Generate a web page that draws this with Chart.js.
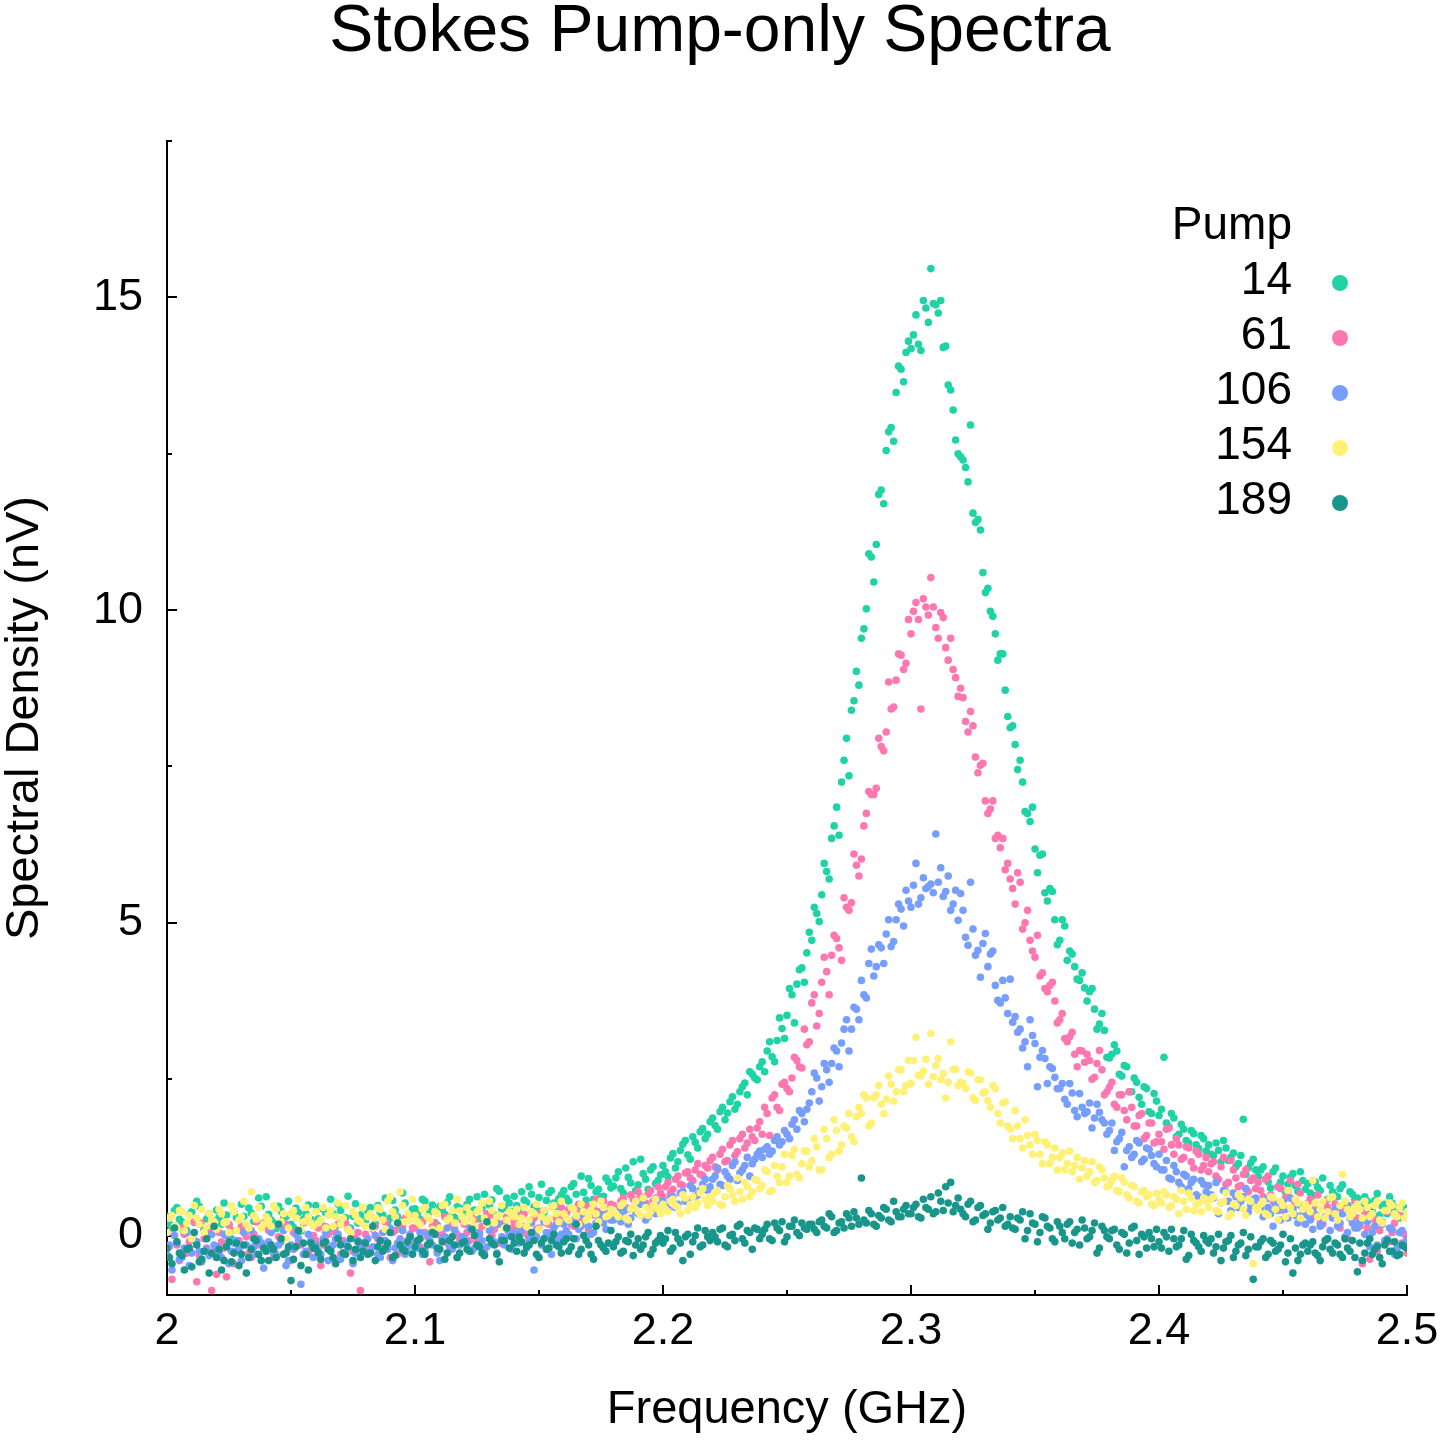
<!DOCTYPE html>
<html>
<head>
<meta charset="utf-8">
<title>Stokes Pump-only Spectra</title>
<script src="https://cdn.jsdelivr.net/npm/chart.js@4.4.1/dist/chart.umd.min.js"></script>
<style>
  html, body { margin: 0; padding: 0; background: #fff; }
  #wrap { width: 1440px; height: 1440px; }
</style>
</head>
<body>
<div id="wrap"><canvas id="spectra" width="1440" height="1440"></canvas></div>
<script>
// Frequency grid (GHz), 1 MHz spacing, kept as two interleaved halves
const freqA = [
    2.000, 2.002, 2.004, 2.006, 2.008, 2.010, 2.012, 2.014, 2.016, 2.018,
    2.020, 2.022, 2.024, 2.026, 2.028, 2.030, 2.032, 2.034, 2.036, 2.038,
    2.040, 2.042, 2.044, 2.046, 2.048, 2.050, 2.052, 2.054, 2.056, 2.058,
    2.060, 2.062, 2.064, 2.066, 2.068, 2.070, 2.072, 2.074, 2.076, 2.078,
    2.080, 2.082, 2.084, 2.086, 2.088, 2.090, 2.092, 2.094, 2.096, 2.098,
    2.100, 2.102, 2.104, 2.106, 2.108, 2.110, 2.112, 2.114, 2.116, 2.118,
    2.120, 2.122, 2.124, 2.126, 2.128, 2.130, 2.132, 2.134, 2.136, 2.138,
    2.140, 2.142, 2.144, 2.146, 2.148, 2.150, 2.152, 2.154, 2.156, 2.158,
    2.160, 2.162, 2.164, 2.166, 2.168, 2.170, 2.172, 2.174, 2.176, 2.178,
    2.180, 2.182, 2.184, 2.186, 2.188, 2.190, 2.192, 2.194, 2.196, 2.198,
    2.200, 2.202, 2.204, 2.206, 2.208, 2.210, 2.212, 2.214, 2.216, 2.218,
    2.220, 2.222, 2.224, 2.226, 2.228, 2.230, 2.232, 2.234, 2.236, 2.238,
    2.240, 2.242, 2.244, 2.246, 2.248, 2.250, 2.252, 2.254, 2.256, 2.258,
    2.260, 2.262, 2.264, 2.266, 2.268, 2.270, 2.272, 2.274, 2.276, 2.278,
    2.280, 2.282, 2.284, 2.286, 2.288, 2.290, 2.292, 2.294, 2.296, 2.298,
    2.300, 2.302, 2.304, 2.306, 2.308, 2.310, 2.312, 2.314, 2.316, 2.318,
    2.320, 2.322, 2.324, 2.326, 2.328, 2.330, 2.332, 2.334, 2.336, 2.338,
    2.340, 2.342, 2.344, 2.346, 2.348, 2.350, 2.352, 2.354, 2.356, 2.358,
    2.360, 2.362, 2.364, 2.366, 2.368, 2.370, 2.372, 2.374, 2.376, 2.378,
    2.380, 2.382, 2.384, 2.386, 2.388, 2.390, 2.392, 2.394, 2.396, 2.398,
    2.400, 2.402, 2.404, 2.406, 2.408, 2.410, 2.412, 2.414, 2.416, 2.418,
    2.420, 2.422, 2.424, 2.426, 2.428, 2.430, 2.432, 2.434, 2.436, 2.438,
    2.440, 2.442, 2.444, 2.446, 2.448, 2.450, 2.452, 2.454, 2.456, 2.458,
    2.460, 2.462, 2.464, 2.466, 2.468, 2.470, 2.472, 2.474, 2.476, 2.478,
    2.480, 2.482, 2.484, 2.486, 2.488, 2.490, 2.492, 2.494, 2.496, 2.498,
    2.500
];
const freqB = [
    2.001, 2.003, 2.005, 2.007, 2.009, 2.011, 2.013, 2.015, 2.017, 2.019,
    2.021, 2.023, 2.025, 2.027, 2.029, 2.031, 2.033, 2.035, 2.037, 2.039,
    2.041, 2.043, 2.045, 2.047, 2.049, 2.051, 2.053, 2.055, 2.057, 2.059,
    2.061, 2.063, 2.065, 2.067, 2.069, 2.071, 2.073, 2.075, 2.077, 2.079,
    2.081, 2.083, 2.085, 2.087, 2.089, 2.091, 2.093, 2.095, 2.097, 2.099,
    2.101, 2.103, 2.105, 2.107, 2.109, 2.111, 2.113, 2.115, 2.117, 2.119,
    2.121, 2.123, 2.125, 2.127, 2.129, 2.131, 2.133, 2.135, 2.137, 2.139,
    2.141, 2.143, 2.145, 2.147, 2.149, 2.151, 2.153, 2.155, 2.157, 2.159,
    2.161, 2.163, 2.165, 2.167, 2.169, 2.171, 2.173, 2.175, 2.177, 2.179,
    2.181, 2.183, 2.185, 2.187, 2.189, 2.191, 2.193, 2.195, 2.197, 2.199,
    2.201, 2.203, 2.205, 2.207, 2.209, 2.211, 2.213, 2.215, 2.217, 2.219,
    2.221, 2.223, 2.225, 2.227, 2.229, 2.231, 2.233, 2.235, 2.237, 2.239,
    2.241, 2.243, 2.245, 2.247, 2.249, 2.251, 2.253, 2.255, 2.257, 2.259,
    2.261, 2.263, 2.265, 2.267, 2.269, 2.271, 2.273, 2.275, 2.277, 2.279,
    2.281, 2.283, 2.285, 2.287, 2.289, 2.291, 2.293, 2.295, 2.297, 2.299,
    2.301, 2.303, 2.305, 2.307, 2.309, 2.311, 2.313, 2.315, 2.317, 2.319,
    2.321, 2.323, 2.325, 2.327, 2.329, 2.331, 2.333, 2.335, 2.337, 2.339,
    2.341, 2.343, 2.345, 2.347, 2.349, 2.351, 2.353, 2.355, 2.357, 2.359,
    2.361, 2.363, 2.365, 2.367, 2.369, 2.371, 2.373, 2.375, 2.377, 2.379,
    2.381, 2.383, 2.385, 2.387, 2.389, 2.391, 2.393, 2.395, 2.397, 2.399,
    2.401, 2.403, 2.405, 2.407, 2.409, 2.411, 2.413, 2.415, 2.417, 2.419,
    2.421, 2.423, 2.425, 2.427, 2.429, 2.431, 2.433, 2.435, 2.437, 2.439,
    2.441, 2.443, 2.445, 2.447, 2.449, 2.451, 2.453, 2.455, 2.457, 2.459,
    2.461, 2.463, 2.465, 2.467, 2.469, 2.471, 2.473, 2.475, 2.477, 2.479,
    2.481, 2.483, 2.485, 2.487, 2.489, 2.491, 2.493, 2.495, 2.497, 2.499
];

// Spectral density (nV) per pump setting
const pump14a = [
    0.31, 0.12, 0.45, 0.22, 0.08, 0.38, 0.55, 0.19, 0.27, 0.02,
    0.41, 0.18, 0.33, -0.05, 0.29, 0.50, 0.14, 0.36, 0.22, 0.47,
    0.62, 0.25, 0.11, 0.39, 0.30, 0.18, 0.44, 0.07, 0.35, 0.26,
    0.48, 0.21, 0.36, 0.58, 0.15, 0.40, 0.29, 0.12, 0.51, 0.33,
    0.24, 0.45, 0.19, 0.37, 0.60, 0.28, 0.41, 0.16, 0.52, 0.30,
    0.43, 0.26, 0.55, 0.38, 0.21, 0.47, 0.34, 0.62, 0.29, 0.44,
    0.36, 0.58, 0.41, 0.27, 0.66, 0.49, 0.33, 0.71, 0.45, 0.52,
    0.63, 0.40, 0.57, 0.78, 0.46, 0.61, 0.35, 0.68, 0.52, 0.59,
    0.72, 0.55, 0.83, 0.48, 0.69, 0.91, 0.58, 0.74, 0.63, 0.86,
    0.79, 1.02, 0.68, 0.93, 1.18, 0.81, 0.99, 0.74, 1.10, 0.88,
    1.12, 0.94, 1.31, 1.18, 1.46, 1.29, 1.58, 1.40, 1.71, 1.62,
    1.88, 1.70, 2.05, 1.96, 2.22, 2.10, 2.38, 2.25, 2.58, 2.49,
    2.78, 2.95, 2.86, 3.12, 3.31, 3.52, 3.85, 4.02, 4.28, 4.52,
    4.72, 5.15, 5.45, 5.82, 6.35, 6.85, 7.25, 7.95, 8.40, 9.02,
    9.55, 10.02, 10.85, 11.05, 11.92, 12.55, 12.92, 13.48, 13.85, 14.12,
    14.18, 14.72, 14.15, 14.83, 15.46, 14.88, 14.95, 14.22, 13.52, 12.72,
    12.45, 12.28, 12.96, 11.40, 11.28, 10.28, 9.98, 9.62, 9.30, 8.72,
    8.12, 7.85, 7.60, 6.78, 6.62, 6.18, 6.08, 5.48, 5.55, 5.05,
    4.72, 4.95, 4.55, 4.30, 4.08, 3.96, 3.90, 3.62, 3.38, 3.28,
    2.84, 3.05, 2.58, 2.72, 2.30, 2.52, 2.21, 2.38, 1.98, 2.27,
    1.92, 2.85, 1.74, 1.88, 1.62, 1.70, 1.48, 1.63, 1.39, 1.55,
    1.45, 1.28, 1.36, 1.52, 1.20, 1.32, 1.15, 1.86, 1.08, 1.22,
    0.94, 1.10, 0.86, 1.02, 0.78, 0.95, 0.82, 0.99, 0.71, 0.88,
    0.83, 0.64, 0.77, 0.92, 0.58, 0.70, 0.62, 0.81, 0.49, 0.66,
    0.60, 0.43, 0.55, 0.38, 0.67, 0.47, 0.35, 0.52, 0.44, 0.31,
    0.40
];
const pump14b = [
    0.18, 0.40, 0.26, 0.05, 0.33, 0.21, 0.47, 0.10, 0.35, 0.24,
    0.29, 0.52, 0.17, 0.38, 0.09, 0.31, 0.44, 0.23, 0.60, 0.16,
    0.34, 0.20, 0.47, 0.28, 0.55, 0.13, 0.37, 0.26, 0.49, 0.19,
    0.27, 0.42, 0.08, 0.35, 0.50, 0.24, 0.63, 0.31, 0.20, 0.45,
    0.39, 0.14, 0.48, 0.33, 0.22, 0.56, 0.30, 0.68, 0.25, 0.42,
    0.35, 0.58, 0.30, 0.49, 0.17, 0.40, 0.53, 0.32, 0.46, 0.28,
    0.50, 0.39, 0.62, 0.44, 0.31, 0.57, 0.75, 0.42, 0.60, 0.38,
    0.48, 0.70, 0.53, 0.66, 0.41, 0.82, 0.56, 0.72, 0.47, 0.65,
    0.60, 0.78, 0.66, 0.95, 0.57, 0.80, 0.70, 0.62, 0.92, 0.76,
    0.92, 0.75, 1.08, 0.84, 0.72, 1.22, 0.90, 1.05, 0.83, 0.97,
    1.02, 1.24, 1.08, 1.36, 1.52, 1.22, 1.49, 1.66, 1.55, 1.82,
    1.76, 1.98, 1.85, 2.14, 2.02, 2.30, 2.44, 2.62, 2.52, 2.70,
    2.62, 3.10, 2.78, 3.48, 3.15, 3.95, 3.40, 4.25, 4.05, 4.85,
    5.25, 5.02, 5.95, 5.70, 6.55, 6.40, 7.60, 7.35, 8.55, 8.80,
    9.70, 10.90, 10.45, 11.85, 11.70, 12.85, 12.70, 13.90, 13.65, 14.30,
    14.40, 14.25, 14.95, 14.60, 14.90, 14.75, 14.20, 13.60, 13.20, 12.50,
    12.40, 12.05, 11.55, 11.45, 10.60, 10.35, 9.90, 9.20, 9.30, 8.30,
    8.15, 7.45, 7.25, 6.75, 6.85, 5.80, 6.10, 5.35, 5.50, 4.65,
    5.05, 4.40, 4.50, 4.10, 4.20, 3.75, 3.95, 3.30, 3.55, 2.85,
    2.90, 2.95, 2.55, 2.70, 2.30, 2.45, 2.10, 2.35, 1.95, 2.15,
    2.02, 1.80, 1.95, 1.58, 1.78, 1.52, 1.68, 1.45, 1.60, 1.35,
    1.30, 1.48, 1.18, 1.40, 1.25, 1.10, 1.28, 0.98, 1.16, 1.05,
    1.05, 0.90, 0.76, 1.08, 0.85, 0.70, 0.93, 0.80, 1.02, 0.74,
    0.68, 0.86, 0.72, 0.55, 0.80, 0.64, 0.75, 0.50, 0.70, 0.58,
    0.48, 0.62, 0.40, 0.56, 0.33, 0.50, 0.62, 0.39, 0.28, 0.45
];

const pump61a = [
    0.05, -0.70, -0.15, 0.12, -0.28, -0.05, -0.74, 0.20, -0.20, -0.88,
    -0.62, -0.10, -0.66, 0.08, -0.25, 0.15, -0.02, -0.35, 0.22, -0.12,
    -0.18, 0.10, -0.30, -0.05, 0.18, -0.40, 0.02, -0.15, 0.25, -0.22,
    -0.08, -0.48, 0.14, -0.20, 0.05, -0.30, 0.20, -0.60, -0.05, -0.88,
    0.02, -0.25, 0.15, -0.10, 0.22, -0.35, 0.08, -0.12, 0.28, -0.05,
    0.12, -0.18, 0.05, -0.42, 0.20, 0.00, 0.30, -0.15, 0.10, -0.05,
    0.18, -0.08, 0.25, 0.05, -0.22, 0.32, 0.10, -0.12, 0.20, 0.02,
    0.22, 0.05, 0.35, -0.10, 0.28, 0.12, 0.40, 0.18, -0.02, 0.30,
    0.25, 0.42, 0.15, 0.50, 0.30, 0.08, 0.45, 0.38, 0.55, 0.28,
    0.48, 0.36, 0.60, 0.42, 0.58, 0.70, 0.50, 0.66, 0.55, 0.78,
    0.62, 0.85, 0.74, 0.95, 0.80, 1.02, 0.88, 1.15, 0.96, 1.08,
    1.25, 1.05, 1.38, 1.20, 1.52, 1.34, 1.62, 1.48, 1.58, 1.72,
    1.62, 1.95, 2.20, 2.05, 2.42, 2.35, 2.52, 2.80, 2.68, 3.05,
    3.72, 3.35, 4.05, 4.22, 4.48, 4.75, 4.40, 5.25, 5.32, 5.92,
    6.02, 6.75, 7.05, 7.15, 7.82, 8.05, 8.42, 8.88, 9.28, 9.15,
    9.62, 10.12, 8.42, 10.05, 10.52, 9.72, 9.96, 9.40, 9.55, 8.92,
    8.75, 8.22, 8.38, 7.65, 7.52, 6.95, 6.82, 6.35, 6.20, 5.85,
    5.70, 5.30, 5.65, 5.00, 4.72, 4.45, 4.15, 3.95, 4.00, 3.75,
    3.45, 3.15, 3.18, 2.90, 2.96, 2.77, 2.80, 2.53, 2.96, 2.25,
    2.37, 2.10, 2.25, 2.00, 2.30, 1.75, 1.92, 1.55, 1.80, 1.48,
    1.62, 1.38, 1.72, 1.30, 1.45, 1.25, 1.40, 1.08, 1.30, 1.12,
    1.02, 1.18, 0.90, 1.25, 0.85, 1.05, 0.78, 0.98, 0.70, 0.92,
    0.85, 0.62, 0.95, 0.55, 0.78, 0.40, 0.70, 0.58, 0.82, 0.45,
    0.52, 0.30, 0.65, 0.18, 0.45, 0.60, 0.25, 0.40, -0.05, 0.35,
    0.28, -0.45, 0.12, 0.32, -0.25, 0.22, 0.38, 0.05, 0.30, -0.12,
    -0.28
];
const pump61b = [
    -0.18, 0.15, -0.40, 0.02, -0.10, 0.22, -0.32, -0.05, 0.10, -0.25,
    0.05, -0.20, 0.18, -0.45, -0.08, 0.10, -0.28, 0.02, -0.15, 0.20,
    0.08, -0.35, -0.02, 0.15, -0.22, 0.05, -0.12, 0.20, -0.30, 0.00,
    0.12, -0.15, 0.02, -0.38, 0.18, -0.08, 0.10, -0.25, 0.05, -0.12,
    -0.20, 0.10, -0.05, 0.25, -0.18, 0.05, -0.30, 0.15, -0.08, 0.12,
    -0.10, 0.22, -0.02, 0.15, -0.25, 0.08, -0.12, 0.18, 0.02, 0.25,
    0.05, 0.28, -0.10, 0.15, 0.35, 0.00, 0.22, -0.05, 0.30, 0.12,
    0.15, 0.32, 0.02, 0.25, 0.10, 0.38, 0.20, 0.05, 0.28, 0.45,
    0.35, 0.18, 0.40, 0.22, 0.48, 0.32, 0.58, 0.25, 0.42, 0.50,
    0.40, 0.55, 0.45, 0.65, 0.38, 0.62, 0.52, 0.72, 0.60, 0.68,
    0.78, 0.68, 0.90, 0.82, 1.00, 0.92, 1.05, 0.98, 1.12, 1.20,
    1.10, 1.30, 1.18, 1.45, 1.28, 1.55, 1.40, 1.70, 1.52, 1.82,
    2.05, 1.60, 2.25, 2.00, 2.45, 2.30, 2.85, 2.70, 3.30, 3.10,
    3.85, 3.55, 4.45, 3.85, 4.80, 4.60, 5.40, 5.20, 6.10, 5.75,
    6.55, 7.10, 7.05, 7.95, 7.75, 8.85, 8.45, 9.30, 9.05, 9.85,
    9.98, 9.85, 10.18, 9.92, 10.05, 9.55, 9.88, 9.20, 9.05, 8.62,
    8.60, 8.05, 8.15, 7.40, 7.55, 6.75, 6.95, 6.40, 6.35, 5.95,
    5.55, 5.80, 4.90, 5.20, 4.55, 4.80, 4.20, 3.90, 4.05, 3.40,
    3.55, 3.10, 3.25, 2.70, 2.95, 2.90, 2.50, 2.75, 2.65, 2.30,
    2.45, 2.05, 2.25, 1.85, 2.05, 1.75, 1.95, 1.60, 1.80, 1.50,
    1.50, 1.70, 1.45, 1.55, 1.22, 1.42, 1.18, 1.35, 1.05, 1.25,
    1.15, 0.95, 1.10, 0.82, 1.20, 0.92, 0.80, 1.05, 0.88, 0.75,
    0.72, 0.90, 0.65, 0.48, 0.75, 0.60, 0.88, 0.50, 0.68, 0.38,
    0.58, 0.42, 0.20, 0.55, 0.35, 0.50, 0.12, 0.45, 0.30, 0.52,
    0.15, 0.35, -0.38, 0.25, 0.08, 0.40, -0.10, 0.20, 0.32, 0.02
];

const pump106a = [
    -0.30, -0.55, -0.12, -0.35, 0.05, -0.28, -0.10, -0.42, -0.22, 0.02,
    -0.18, -0.35, 0.00, -0.25, -0.08, -0.40, -0.15, 0.08, -0.30, -0.12,
    -0.20, 0.05, -0.32, -0.10, -0.48, -0.15, 0.02, -0.78, -0.25, -0.08,
    -0.15, -0.30, 0.05, -0.22, -0.05, -0.38, -0.12, 0.10, -0.28, -0.18,
    -0.10, -0.25, 0.00, -0.35, -0.08, 0.12, -0.20, -0.05, -0.30, 0.02,
    -0.12, 0.05, -0.25, -0.08, 0.10, -0.40, -0.02, -0.18, 0.08, -0.15,
    -0.05, 0.12, -0.20, 0.02, -0.30, 0.08, -0.10, 0.18, -0.15, 0.00,
    0.05, -0.12, 0.15, -0.05, -0.55, 0.10, 0.22, 0.00, 0.12, -0.08,
    0.18, 0.02, 0.25, 0.10, 0.32, 0.15, 0.05, 0.28, 0.20, 0.38,
    0.25, 0.40, 0.32, 0.18, 0.45, 0.35, 0.52, 0.30, 0.48, 0.42,
    0.55, 0.42, 0.62, 0.50, 0.70, 0.58, 0.75, 0.65, 0.82, 0.72,
    0.90, 1.08, 0.80, 0.95, 1.12, 0.88, 1.05, 1.25, 1.15, 1.30,
    1.25, 1.42, 1.35, 1.58, 1.50, 1.62, 1.78, 1.70, 1.95, 2.02,
    2.30, 2.52, 2.38, 2.65, 2.75, 2.95, 3.08, 3.45, 3.30, 3.62,
    4.08, 3.80, 4.58, 4.30, 4.60, 4.82, 4.62, 5.05, 5.22, 5.52,
    5.25, 5.95, 5.40, 5.55, 5.62, 6.42, 5.88, 5.50, 5.20, 5.52,
    5.47, 4.77, 5.65, 4.48, 4.13, 4.83, 4.50, 4.00, 3.72, 3.80,
    4.10, 3.50, 3.30, 3.10, 3.45, 3.07, 2.85, 2.83, 2.70, 2.53,
    2.35, 2.18, 2.43, 2.00, 2.27, 1.95, 2.12, 1.88, 1.97, 1.80,
    1.68, 1.36, 1.55, 1.10, 1.42, 1.30, 1.48, 1.22, 1.38, 1.15,
    1.30, 1.05, 0.92, 1.12, 0.85, 0.98, 0.75, 0.90, 0.62, 0.82,
    0.80, 0.60, 0.35, 0.72, 0.55, 0.68, 0.45, 0.62, 0.38, 0.58,
    0.52, 0.30, 0.45, 0.15, 0.40, 0.55, 0.28, 0.42, 0.20, 0.35,
    0.32, 0.10, 0.40, 0.22, -0.05, 0.28, 0.15, 0.35, 0.05, 0.20,
    0.12, -0.40, 0.22, 0.05, -0.15, 0.18, -0.05, 0.10, -0.20, 0.08,
    -0.05
];
const pump106b = [
    -0.15, 0.00, -0.38, -0.20, -0.48, -0.08, -0.25, 0.10, -0.32, -0.15,
    -0.28, 0.02, -0.45, -0.12, -0.22, 0.05, -0.35, -0.18, -0.05, -0.52,
    -0.10, -0.28, -0.15, 0.08, -0.40, -0.22, -0.05, -0.30, 0.02, -0.35,
    -0.25, -0.05, -0.40, -0.15, 0.02, -0.28, -0.18, -0.45, -0.08, -0.20,
    -0.05, -0.18, -0.30, 0.05, -0.22, -0.40, -0.12, 0.08, -0.18, -0.28,
    -0.20, -0.30, 0.02, -0.15, -0.28, -0.05, 0.12, -0.22, -0.35, -0.02,
    -0.12, -0.25, 0.05, -0.08, -0.18, 0.15, -0.28, -0.02, 0.10, -0.22,
    -0.10, 0.08, -0.20, 0.20, -0.02, -0.15, 0.05, -0.30, 0.18, 0.02,
    0.08, 0.22, -0.05, 0.15, 0.28, 0.02, 0.20, 0.35, 0.10, 0.25,
    0.35, 0.22, 0.42, 0.28, 0.38, 0.50, 0.25, 0.45, 0.35, 0.55,
    0.48, 0.60, 0.45, 0.68, 0.55, 0.80, 0.62, 0.72, 0.90, 0.78,
    0.95, 0.82, 1.02, 0.90, 1.18, 1.00, 1.12, 0.95, 1.22, 1.35,
    1.38, 1.30, 1.52, 1.45, 1.68, 1.55, 1.85, 2.00, 1.82, 2.12,
    2.60, 2.15, 2.75, 2.45, 3.00, 2.70, 3.30, 2.95, 3.65, 3.45,
    3.85, 4.35, 4.15, 4.65, 4.35, 5.05, 4.70, 5.30, 4.95, 5.35,
    5.60, 5.30, 5.72, 5.58, 5.48, 5.65, 5.42, 5.75, 5.30, 5.04,
    5.20, 4.64, 4.90, 4.56, 4.67, 4.30, 4.55, 3.76, 4.08, 3.55,
    3.41, 3.25, 3.00, 2.70, 3.20, 2.38, 2.96, 2.43, 2.67, 2.35,
    2.43, 2.10, 2.28, 1.90, 2.05, 1.98, 1.72, 2.10, 1.85, 1.62,
    1.80, 1.50, 1.65, 1.36, 1.25, 1.52, 1.18, 1.40, 1.28, 1.10,
    1.05, 1.20, 0.90, 1.02, 0.78, 0.95, 0.85, 0.65, 0.88, 0.70,
    0.65, 0.85, 0.52, 0.70, 0.40, 0.62, 0.55, 0.75, 0.48, 0.60,
    0.45, 0.58, 0.35, 0.50, 0.25, 0.42, 0.60, 0.32, 0.48, 0.18,
    0.25, 0.38, 0.15, 0.30, 0.08, 0.42, 0.20, -0.02, 0.28, 0.12,
    0.20, 0.02, -0.18, 0.15, 0.25, -0.08, 0.12, -0.30, 0.05, -0.12
];

const pump154a = [
    0.05, 0.32, 0.12, 0.38, 0.20, -0.05, 0.28, 0.42, 0.15, 0.25,
    0.10, 0.35, 0.22, 0.48, 0.08, 0.30, 0.18, 0.70, 0.26, 0.12,
    0.30, 0.15, 0.42, 0.22, -0.05, 0.35, 0.28, 0.10, 0.45, 0.20,
    0.38, 0.25, 0.12, 0.40, 0.30, 0.18, 0.48, 0.05, 0.33, 0.22,
    0.15, 0.35, 0.28, 0.42, 0.10, 0.62, 0.30, 0.70, 0.22, 0.25,
    0.32, 0.18, 0.45, 0.25, 0.38, 0.12, 0.50, 0.28, 0.20, 0.40,
    0.22, 0.35, 0.15, 0.42, 0.28, 0.55, 0.20, 0.32, 0.12, 0.38,
    0.30, 0.18, 0.45, 0.25, 0.35, 0.10, 0.40, 0.28, 0.48, 0.22,
    0.35, 0.25, 0.42, 0.18, 0.38, 0.30, 0.50, 0.22, 0.45, 0.32,
    0.40, 0.30, 0.52, 0.25, 0.45, 0.38, 0.60, 0.32, 0.48, 0.42,
    0.50, 0.38, 0.58, 0.45, 0.65, 0.40, 0.62, 0.52, 0.75, 0.48,
    0.55, 0.72, 0.48, 0.80, 0.65, 0.92, 0.58, 0.78, 0.70, 0.88,
    0.80, 1.02, 0.72, 0.95, 1.10, 0.85, 1.28, 0.98, 1.15, 1.35,
    1.20, 1.42, 1.05, 1.55, 1.30, 1.68, 1.45, 1.72, 1.58, 1.90,
    1.95, 2.20, 1.80, 2.25, 2.10, 2.18, 2.42, 2.30, 2.65, 2.40,
    2.43, 3.17, 2.55, 2.82, 3.23, 2.72, 2.49, 2.20, 3.10, 2.66,
    2.45, 2.35, 2.60, 2.16, 2.49, 2.30, 2.05, 2.35, 1.80, 2.14,
    1.70, 2.00, 1.55, 1.85, 1.45, 1.62, 1.30, 1.50, 1.15, 1.40,
    1.25, 1.05, 1.35, 1.12, 0.90, 1.20, 1.02, 0.85, 1.10, 0.92,
    0.80, 0.95, 0.70, 0.85, 0.60, 0.78, 0.52, 0.72, 0.65, 0.48,
    0.58, 0.70, 0.45, 0.62, 0.35, 0.55, 0.68, 0.40, 0.52, 0.60,
    0.45, 0.62, 0.38, 0.55, 0.30, 0.50, 0.65, 0.42, 0.58, -0.45,
    0.40, 0.55, 0.32, 0.60, 0.25, 0.48, 0.72, 0.35, 0.52, 0.42,
    0.45, 0.88, 0.30, 0.55, 0.38, 0.62, 0.25, 0.98, 0.42, 0.35,
    0.50, 0.28, 0.45, 0.35, 0.55, 0.20, 0.40, 0.48, 0.30, 0.52,
    0.38
];
const pump154b = [
    0.28, 0.15, 0.40, 0.08, 0.32, 0.48, 0.18, 0.05, 0.35, 0.22,
    0.42, 0.20, 0.05, 0.38, 0.25, 0.55, 0.12, 0.32, 0.45, 0.18,
    0.25, 0.48, 0.18, 0.35, 0.12, 0.40, 0.58, 0.22, 0.30, 0.15,
    0.20, 0.45, 0.32, 0.15, 0.52, 0.28, 0.10, 0.38, 0.25, 0.45,
    0.30, 0.12, 0.45, 0.25, 0.55, 0.38, 0.20, 0.48, 0.35, 0.58,
    0.22, 0.42, 0.30, 0.10, 0.35, 0.48, 0.25, 0.40, 0.58, 0.30,
    0.45, 0.25, 0.38, 0.52, 0.18, 0.40, 0.30, 0.48, 0.25, 0.35,
    0.42, 0.28, 0.15, 0.38, 0.50, 0.30, 0.22, 0.45, 0.35, 0.55,
    0.28, 0.45, 0.32, 0.50, 0.25, 0.40, 0.35, 0.55, 0.30, 0.42,
    0.35, 0.48, 0.28, 0.42, 0.55, 0.32, 0.45, 0.38, 0.58, 0.35,
    0.42, 0.55, 0.48, 0.35, 0.60, 0.50, 0.45, 0.68, 0.58, 0.62,
    0.68, 0.50, 0.62, 0.75, 0.55, 0.70, 0.85, 0.62, 0.90, 0.75,
    1.05, 0.70, 1.12, 0.85, 1.30, 0.95, 1.38, 0.92, 1.35, 1.10,
    1.55, 1.05, 1.70, 1.25, 1.85, 1.35, 1.75, 1.95, 1.50, 2.05,
    2.25, 1.75, 2.20, 2.40, 1.95, 2.55, 2.15, 2.65, 2.30, 2.80,
    2.80, 2.56, 2.63, 2.42, 2.54, 2.83, 2.59, 2.45, 2.66, 2.40,
    2.43, 2.62, 2.20, 2.49, 2.28, 2.16, 2.40, 1.95, 2.12, 1.75,
    1.55, 1.75, 1.40, 1.60, 1.30, 1.52, 1.15, 1.45, 1.25, 1.05,
    1.32, 1.15, 1.02, 1.25, 1.08, 0.95, 1.18, 0.88, 1.05, 0.78,
    0.88, 0.72, 0.92, 0.65, 0.80, 0.55, 0.70, 0.62, 0.50, 0.68,
    0.52, 0.65, 0.48, 0.58, 0.72, 0.42, 0.60, 0.50, 0.38, 0.55,
    0.58, 0.40, 0.52, 0.68, 0.35, 0.48, 0.60, 0.32, 0.55, 0.45,
    0.50, 0.35, 0.62, 0.42, 0.55, 0.30, 0.45, 0.58, 0.28, 0.50,
    0.38, 0.52, 0.42, 0.28, 0.60, 0.35, 0.48, 0.55, 0.30, 0.45,
    0.42, 0.55, 0.30, 0.48, 0.25, 0.40, 0.52, 0.35, 0.45, 0.28
];

const pump189a = [
    -0.20, -0.45, -0.10, -0.32, -0.22, -0.50, -0.15, -0.38, -0.05, -0.28,
    -0.35, -0.55, -0.18, -0.42, -0.12, -0.30, -0.60, -0.22, -0.08, -0.40,
    -0.25, -0.15, -0.35, -0.05, -0.28, -0.72, -0.18, -0.48, -0.30, -0.12,
    -0.20, -0.38, -0.10, -0.25, -0.45, -0.15, -0.30, -0.05, -0.22, -0.35,
    -0.12, -0.28, -0.40, -0.08, -0.20, 0.05, -0.32, -0.15, -0.25, -0.02,
    -0.18, -0.05, -0.30, -0.12, 0.02, -0.22, -0.38, -0.08, -0.15, -0.28,
    -0.10, -0.25, 0.00, -0.18, -0.32, -0.05, -0.15, -0.42, -0.08, -0.20,
    -0.12, -0.02, -0.28, -0.15, -0.08, -0.35, -0.05, -0.20, 0.02, -0.18,
    -0.10, -0.25, -0.05, -0.30, 0.00, -0.15, -0.38, -0.08, -0.20, -0.12,
    -0.18, -0.02, -0.25, -0.10, -0.32, -0.05, -0.15, 0.05, -0.22, -0.08,
    -0.12, 0.08, -0.20, -0.05, -0.40, 0.02, -0.10, 0.12, -0.15, -0.02,
    0.05, -0.10, 0.12, -0.18, 0.02, 0.15, -0.05, 0.08, -0.22, 0.10,
    0.02, 0.18, -0.08, 0.12, 0.22, -0.02, 0.15, 0.05, 0.20, 0.10,
    0.18, 0.05, 0.25, 0.12, 0.30, 0.08, 0.22, 0.35, 0.15, 0.28,
    0.92, 0.20, 0.35, 0.15, 0.28, 0.42, 0.22, 0.38, 0.30, 0.48,
    0.35, 0.50, 0.28, 0.45, 0.62, 0.38, 0.55, 0.78, 0.85, 0.48,
    0.42, 0.30, 0.55, 0.25, 0.48, 0.35, 0.20, 0.40, 0.28, 0.15,
    0.30, 0.10, 0.25, -0.05, 0.35, 0.18, 0.05, 0.28, 0.12, -0.10,
    0.15, -0.05, 0.22, 0.05, -0.15, 0.12, -0.02, 0.20, -0.20, 0.08,
    -0.05, 0.10, -0.22, 0.02, -0.12, 0.15, -0.30, -0.02, 0.05, -0.18,
    -0.10, 0.05, -0.25, -0.05, -0.15, 0.08, -0.32, -0.08, -0.18, 0.00,
    -0.12, -0.28, 0.02, -0.20, -0.08, -0.35, -0.15, 0.05, -0.22, -0.70,
    -0.18, -0.05, -0.30, -0.12, -0.22, 0.02, -0.28, -0.60, -0.40, -0.15,
    -0.25, -0.10, -0.32, -0.18, -0.05, -0.28, -0.15, -0.35, -0.20, -0.08,
    -0.58, -0.40, -0.12, -0.30, -0.18, -0.45, -0.08, -0.25, -0.32, -0.15,
    -0.20
];
const pump189b = [
    -0.35, 0.12, -0.28, -0.55, -0.20, 0.05, -0.42, -0.25, -0.60, 0.15,
    -0.22, -0.40, -0.10, -0.28, -0.48, -0.15, -0.35, -0.05, -0.30, -0.20,
    -0.40, -0.22, 0.18, -0.30, -0.18, -0.38, 0.08, -0.12, -0.55, -0.20,
    -0.28, -0.12, -0.22, -0.35, -0.05, -0.28, -0.18, -0.40, -0.10, -0.25,
    -0.30, 0.15, -0.18, -0.25, -0.12, -0.35, 0.20, -0.22, -0.10, -0.30,
    -0.08, -0.25, -0.15, 0.05, -0.20, -0.10, -0.28, -0.02, -0.35, -0.12,
    -0.22, 0.10, -0.15, -0.28, 0.22, -0.12, -0.30, -0.08, 0.12, -0.02,
    -0.25, -0.10, -0.18, 0.05, -0.30, -0.12, -0.22, -0.08, -0.15, -0.28,
    -0.05, -0.18, 0.18, -0.22, -0.08, -0.30, 0.15, -0.15, -0.25, 0.08,
    -0.10, -0.28, -0.08, 0.02, -0.15, -0.22, -0.02, -0.30, -0.12, 0.00,
    -0.05, -0.25, 0.05, -0.12, -0.02, -0.30, 0.00, -0.18, 0.08, -0.08,
    -0.02, 0.10, -0.15, 0.00, -0.08, 0.18, -0.12, 0.05, 0.12, -0.05,
    0.10, -0.05, 0.20, 0.08, -0.10, 0.15, 0.25, 0.00, 0.12, 0.18,
    0.10, 0.22, 0.15, 0.35, 0.05, 0.20, 0.12, 0.28, 0.38, 0.18,
    0.25, 0.40, 0.18, 0.32, 0.45, 0.25, 0.55, 0.30, 0.42, 0.35,
    0.45, 0.30, 0.58, 0.42, 0.35, 0.68, 0.40, 0.52, 0.38, 0.60,
    0.35, 0.50, 0.22, 0.45, 0.32, 0.10, 0.38, 0.25, 0.45, 0.18,
    0.12, 0.28, 0.38, 0.08, 0.20, -0.10, 0.30, 0.15, -0.05, 0.22,
    0.05, 0.18, -0.12, 0.10, 0.25, -0.05, 0.08, -0.28, 0.15, -0.02,
    0.08, -0.15, 0.05, -0.28, 0.12, -0.08, 0.02, -0.20, -0.05, 0.10,
    -0.20, -0.02, 0.10, -0.18, -0.05, -0.38, 0.02, -0.12, -0.25, -0.08,
    -0.05, -0.18, -0.40, -0.10, 0.00, -0.25, -0.12, -0.32, -0.02, -0.18,
    -0.10, -0.35, -0.08, -0.25, -0.15, -0.42, -0.05, -0.20, -0.30, -0.12,
    -0.15, -0.28, -0.40, -0.08, -0.22, -0.12, -0.30, -0.05, -0.25, -0.35,
    -0.12, -0.28, -0.05, -0.22, -0.35, -0.15, -0.25, -0.10, -0.30, -0.18
];

const pumpLabels = ['14', '61', '106', '154', '189'];
const legendTitle = 'Pump';

// Axis ticks
const xTickValues = [2, 2.1, 2.2, 2.3, 2.4, 2.5];
const xTickLabels = ['2', '2.1', '2.2', '2.3', '2.4', '2.5'];
const xMinorTicks = [2.05, 2.15, 2.25, 2.35, 2.45];
const yTickValues = [0, 5, 10, 15];
const yTickLabels = ['0', '5', '10', '15'];
const yMinorTicks = [2.5, 7.5, 12.5, 17.5];

// Styles
const seriesColors = ['#1fd3a6', '#ff77b0', '#779dff', '#fff176', '#19968c'];
const FONT = "'Liberation Sans', Arial, sans-serif";

const seriesA = [pump14a, pump61a, pump106a, pump154a, pump189a];
const seriesB = [pump14b, pump61b, pump106b, pump154b, pump189b];

// gnuplot-style ticks drawn inside the plot area
const innerTicks = {
    id: 'innerTicks',
    beforeDatasetsDraw(chart) {
        const { ctx, chartArea, scales: { x, y } } = chart;
        ctx.save();
        ctx.strokeStyle = '#000';
        ctx.lineWidth = 2;
        ctx.beginPath();
        const xMark = (v, len) => {
            const px = Math.round(x.getPixelForValue(v));
            ctx.moveTo(px, chartArea.bottom);
            ctx.lineTo(px, chartArea.bottom - len);
        };
        const yMark = (v, len) => {
            const py = Math.round(y.getPixelForValue(v));
            ctx.moveTo(chartArea.left, py);
            ctx.lineTo(chartArea.left + len, py);
        };
        xTickValues.forEach(v => xMark(v, 10));
        xMinorTicks.forEach(v => xMark(v, 5));
        yTickValues.forEach(v => yMark(v, 10));
        yMinorTicks.forEach(v => yMark(v, 5));
        ctx.stroke();
        ctx.restore();
    }
};

// Legend: right-aligned labels with the marker to the right
const pumpLegend = {
    id: 'pumpLegend',
    afterDatasetsDraw(chart) {
        const { ctx, chartArea } = chart;
        const textRight = chartArea.right - 115;
        const markerX = chartArea.right - 67;
        const top = chartArea.top + 85;
        ctx.save();
        ctx.font = '46px ' + FONT;
        ctx.textAlign = 'right';
        ctx.textBaseline = 'middle';
        ctx.fillStyle = '#000';
        ctx.fillText(legendTitle, textRight, top);
        chart.data.datasets.forEach((ds, k) => {
            const rowY = top + 55 * (k + 1);
            ctx.fillStyle = '#000';
            ctx.fillText(ds.label, textRight, rowY);
            ctx.fillStyle = ds.backgroundColor;
            ctx.beginPath();
            ctx.arc(markerX, rowY + 2, 8, 0, Math.PI * 2);
            ctx.fill();
        });
        ctx.restore();
    }
};

const datasets = seriesA.map((valsA, k) => ({
    label: pumpLabels[k],
    data: valsA.map((v, i) => ({ x: freqA[i], y: v }))
        .concat(seriesB[k].map((v, i) => ({ x: freqB[i], y: v }))),
    backgroundColor: seriesColors[k],
    borderColor: seriesColors[k],
    pointRadius: 3.8,
    pointHoverRadius: 3.8,
    pointBorderWidth: 0,
    order: seriesA.length - k
}));

new Chart(document.getElementById('spectra'), {
    type: 'scatter',
    data: { datasets },
    plugins: [innerTicks, pumpLegend],
    options: {
        responsive: false,
        animation: false,
        devicePixelRatio: 1,
        layout: { padding: 0 },
        plugins: {
            legend: { display: false },
            tooltip: { enabled: false },
            title: {
                display: true,
                text: 'Stokes Pump-only Spectra',
                color: '#000',
                font: { family: FONT, size: 66, weight: 'normal', lineHeight: 1 },
                padding: { top: 0, bottom: 75 }
            }
        },
        scales: {
            x: {
                type: 'linear',
                min: 2,
                max: 2.5,
                grid: { display: false, drawTicks: false },
                border: { display: true, color: '#000', width: 2 },
                ticks: {
                    color: '#000',
                    font: { family: FONT, size: 45 },
                    padding: 10,
                    maxRotation: 0,
                    autoSkip: false,
                    callback: (v, i) => xTickLabels[i]
                },
                afterBuildTicks: s => { s.ticks = xTickValues.map(v => ({ value: v })); },
                afterFit: s => { s.height = 145; s.paddingLeft = 0; s.paddingRight = 33; },
                title: {
                    display: true,
                    text: 'Frequency (GHz)',
                    color: '#000',
                    font: { family: FONT, size: 47, lineHeight: 1.2 },
                    padding: { top: 0, bottom: 2 }
                }
            },
            y: {
                type: 'linear',
                min: -0.95,
                max: 17.5,
                grid: { display: false, drawTicks: false },
                border: { display: true, color: '#000', width: 2 },
                ticks: {
                    color: '#000',
                    font: { family: FONT, size: 45 },
                    padding: 24,
                    callback: (v, i) => yTickLabels[i]
                },
                afterBuildTicks: s => { s.ticks = yTickValues.map(v => ({ value: v })); },
                afterFit: s => { s.width = 167; s.paddingTop = 0; s.paddingBottom = 0; },
                title: {
                    display: true,
                    text: 'Spectral Density (nV)',
                    color: '#000',
                    font: { family: FONT, size: 47, lineHeight: 1 },
                    padding: { top: 2, bottom: 0 }
                }
            }
        }
    }
});
</script>
</body>
</html>
